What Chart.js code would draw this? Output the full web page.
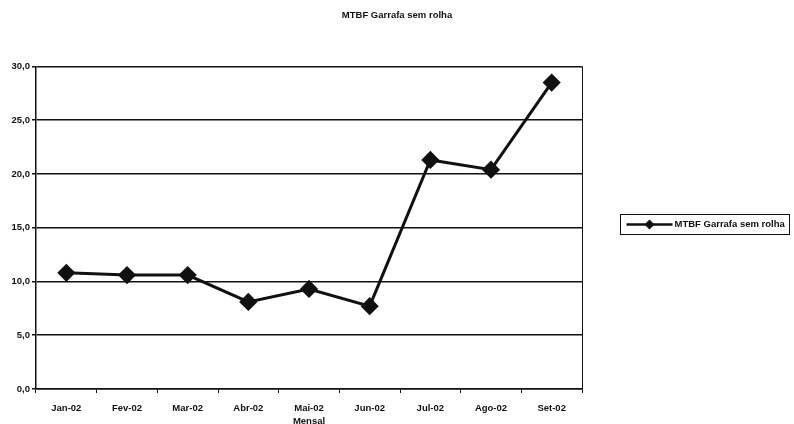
<!DOCTYPE html>
<html>
<head>
<meta charset="utf-8">
<title>MTBF Garrafa sem rolha</title>
<script src="https://cdn.jsdelivr.net/npm/chart.js@4/dist/chart.umd.min.js"></script>
<style>
  html, body { margin: 0; padding: 0; background: #fff; }
  #wrap { width: 794px; height: 424px; }
</style>
</head>
<body>
<div id="wrap"><canvas id="chartCanvas" width="794" height="424"></canvas></div>
<script>
// ---------- data ----------
const months = ["Jan-02", "Fev-02", "Mar-02", "Abr-02", "Mai-02", "Jun-02", "Jul-02", "Ago-02", "Set-02"];
const mtbfValues = [10.8, 10.6, 10.6, 8.1, 9.3, 7.7, 21.3, 20.4, 28.5];
const seriesName = "MTBF Garrafa sem rolha";
const chartTitle = "MTBF Garrafa sem rolha";
const xTitle = "Mensal";

const INK = "#111";
const FAMILY = "'Liberation Sans', Arial, sans-serif";
const FONT = { family: FAMILY, size: 9.5, weight: "bold" };

// comma as decimal separator, one digit
function fmt(v) {
  return Number(v).toFixed(1).replace(".", ",");
}

// plot frame (right edge line) + boxed legend on the right side
const frameAndLegend = {
  id: "frameAndLegend",
  afterDraw(chart) {
    const ctx = chart.ctx;
    const a = chart.chartArea;
    ctx.save();
    ctx.strokeStyle = INK;
    ctx.lineWidth = 1;
    ctx.beginPath();
    ctx.moveTo(a.right + 0.5, a.top);
    ctx.lineTo(a.right + 0.5, a.bottom);
    ctx.stroke();

    // legend box
    const ds = chart.data.datasets[0];
    const bx = a.right + 38.5, by = 214.5, bw = 169, bh = 20;
    ctx.lineWidth = 1;
    ctx.strokeRect(bx, by, bw, bh);
    const cy = by + bh / 2;
    ctx.lineWidth = 2.5;
    ctx.beginPath();
    ctx.moveTo(bx + 6, cy);
    ctx.lineTo(bx + 52, cy);
    ctx.stroke();
    ctx.fillStyle = INK;
    ctx.beginPath();
    ctx.moveTo(bx + 29, cy - 5);
    ctx.lineTo(bx + 34, cy);
    ctx.lineTo(bx + 29, cy + 5);
    ctx.lineTo(bx + 24, cy);
    ctx.closePath();
    ctx.fill();
    ctx.font = "bold 9.5px " + FAMILY;
    ctx.textBaseline = "middle";
    ctx.fillText(ds.label, bx + 54, cy);
    ctx.restore();
  }
};

new Chart(document.getElementById("chartCanvas"), {
  type: "line",
  data: {
    labels: months,
    datasets: [{
      label: seriesName,
      data: mtbfValues,
      borderColor: INK,
      borderWidth: 3,
      backgroundColor: INK,
      pointStyle: "rectRot",
      pointRadius: 7,
      pointHoverRadius: 7,
      pointBackgroundColor: INK,
      pointBorderColor: INK,
      tension: 0
    }]
  },
  options: {
    responsive: false,
    animation: false,
    layout: { padding: 0 },
    plugins: {
      legend: { display: false },
      tooltip: { enabled: false },
      title: {
        display: true,
        text: chartTitle,
        color: INK,
        font: FONT,
        padding: { top: 10, bottom: 45 }
      }
    },
    scales: {
      x: {
        offset: true,
        grid: {
          offset: true,
          drawOnChartArea: false,
          drawTicks: true,
          tickLength: 4,
          color: INK,
          lineWidth: 1
        },
        border: { color: INK, width: 1.5 },
        ticks: { color: INK, font: FONT, padding: 10, maxRotation: 0 },
        title: { display: true, text: xTitle, color: INK, font: FONT, padding: { top: 2, bottom: -3 } },
        afterFit(scale) { scale.height = 35; }
      },
      y: {
        min: 0,
        max: 30,
        grid: {
          color: INK,
          lineWidth: 1.5,
          tickLength: 4
        },
        border: { color: INK, width: 1.5 },
        ticks: {
          stepSize: 5,
          color: INK,
          font: FONT,
          padding: 2,
          callback: v => fmt(v)
        },
        afterFit(scale) { scale.width = 36; }
      },
      // empty right-hand axis, reserves the space the legend sits in
      yRight: {
        position: "right",
        min: 0,
        max: 30,
        grid: { display: false },
        border: { display: false },
        ticks: { display: false },
        afterFit(scale) { scale.width = 212; }
      }
    }
  },
  plugins: [frameAndLegend]
});
</script>
</body>
</html>
